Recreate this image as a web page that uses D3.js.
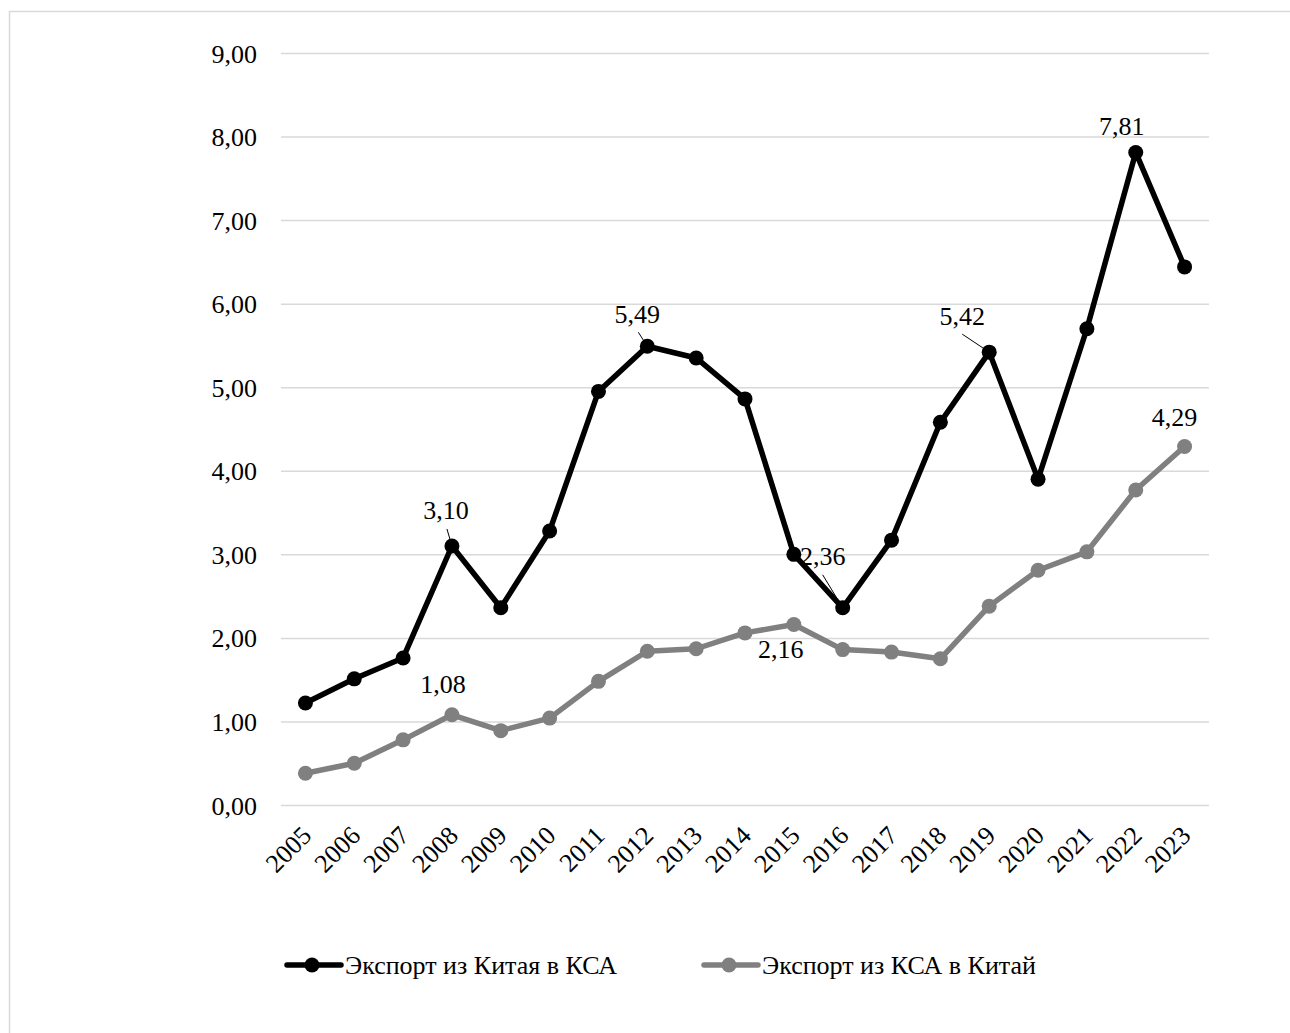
<!DOCTYPE html>
<html>
<head>
<meta charset="utf-8">
<script src="https://cdn.jsdelivr.net/npm/d3@7"></script>
<style>
  body { margin: 0; background: #fff; }
  text { font-family: "Liberation Serif", "Times New Roman", serif; fill: #000; }
</style>
</head>
<body>
<div id="chart"></div>
<script>
// Export between China and KSA, 2005-2023

var years = ["2005","2006","2007","2008","2009","2010","2011","2012","2013","2014",
             "2015","2016","2017","2018","2019","2020","2021","2022","2023"];

var exportChinaToKsa = [1.22, 1.51, 1.76, 3.10, 2.36, 3.28, 4.95, 5.49, 5.35, 4.86,
                        3.00, 2.36, 3.17, 4.58, 5.42, 3.90, 5.70, 7.81, 6.44];

var exportKsaToChina = [0.38, 0.50, 0.78, 1.08, 0.89, 1.04, 1.48, 1.84, 1.87, 2.06,
                        2.16, 1.86, 1.83, 1.75, 2.38, 2.81, 3.03, 3.77, 4.29];

var seriesNames = ["Экспорт из Китая в КСА", "Экспорт из КСА в Китай"];
var yTicks = [0, 1, 2, 3, 4, 5, 6, 7, 8, 9];

// which points carry a value label
var labelledBlack = ["2008", "2012", "2016", "2019", "2022"];
var labelledGray = ["2008", "2015", "2023"];

const W = 1290, H = 1033;
const margin = {top: 53, left: 281, right: 81, bottom: 228};
const width = W - margin.left - margin.right;
const height = H - margin.top - margin.bottom;
const FS = '26px';

const fmt = v => d3.format(".2f")(v).replace(".", ",");

const svgRoot = d3.select('#chart').append('svg')
  .attr("width", W)
  .attr("height", H);

// outer frame
svgRoot.append('rect')
  .attr('x', 9.5).attr('y', 11.5)
  .attr('width', W).attr('height', H)
  .style('fill', 'none')
  .style('stroke', '#d9d9d9')
  .style('stroke-width', 1.5);

const svg = svgRoot.append('g')
  .attr("transform", `translate(${margin.left},${margin.top})`);

const x = d3.scalePoint().domain(years).range([0, width]).padding(0.5);
const y = d3.scaleLinear().domain([0, 9]).range([height, 0]);

// grid lines + y labels
svg.append("g")
  .call(d3.axisLeft(y).tickValues(yTicks).tickSize(-width).tickFormat(fmt).tickPadding(24))
  .call(g => g.select(".domain").remove())
  .call(g => g.selectAll(".tick line").style('stroke', '#d9d9d9').style('stroke-width', 1.5))
  .call(g => g.selectAll(".tick text").style('font-size', FS).style('font-family', '"Liberation Serif", serif').attr('dy', '0.35em'));

// x labels
svg.append("g")
  .attr("transform", `translate(0,${height})`)
  .call(d3.axisBottom(x).tickSize(0))
  .call(g => g.select(".domain").remove())
  .call(g => g.selectAll(".tick text")
    .style('font-size', FS)
    .style('font-family', '"Liberation Serif", serif')
    .attr('text-anchor', 'end')
    .attr('dy', '0')
    .attr('transform', 'translate(5,30) rotate(-45)'));

function drawSeries(values, color)
{
  const pts = years.map((yr, i) => ({yr: yr, v: values[i]}));
  svg.append('path')
    .datum(pts)
    .attr('d', d3.line().x(d => x(d.yr)).y(d => y(d.v)))
    .style('fill', 'none')
    .style('stroke', color)
    .style('stroke-width', 5.5)
    .style('stroke-linejoin', 'round');
  svg.append('g').selectAll('circle')
    .data(pts).enter()
    .append('circle')
    .attr('cx', d => x(d.yr))
    .attr('cy', d => y(d.v))
    .attr('r', 7.5)
    .style('fill', color);
  return pts;
}

const blackPts = drawSeries(exportChinaToKsa, '#000000');
const grayPts = drawSeries(exportKsaToChina, '#808080');

// label offsets relative to point: [dx, dy] and optional leader start [lx, ly]
const blackOffsets = {
  "2008": [-6, -27, -5, -17],
  "2012": [-10, -23, -9, -14],
  "2016": [-20, -43, -20, -33],
  "2019": [-27, -27, -27, -18],
  "2022": [-14, -17]
};
const grayOffsets = {
  "2008": [-9, -22],
  "2015": [-13, 33],
  "2023": [-10, -21]
};

function drawLabels(pts, names, offsets)
{
  pts.filter(d => names.includes(d.yr)).forEach(d => {
    const o = offsets[d.yr];
    const px = x(d.yr), py = y(d.v);
    if(o.length > 2)
    {
      const len = Math.hypot(o[2], o[3]);
      svg.append('line')
        .attr('x1', px + o[2]).attr('y1', py + o[3])
        .attr('x2', px + o[2] / len * 6).attr('y2', py + o[3] / len * 6)
        .style('stroke', '#000')
        .style('stroke-width', 1);
    }
    svg.append('text')
      .attr('x', px + o[0])
      .attr('y', py + o[1])
      .attr('text-anchor', 'middle')
      .style('font-size', FS)
      .text(fmt(d.v));
  });
}

drawLabels(blackPts, labelledBlack, blackOffsets);
drawLabels(grayPts, labelledGray, grayOffsets);

// legend
const legend = svgRoot.append('g').attr('transform', 'translate(0,965)');
[['#000000', 287], ['#808080', 704]].forEach((c, i) => {
  const g = legend.append('g').attr('transform', `translate(${c[1]},0)`);
  g.append('line').attr('x1', 0).attr('x2', 54).attr('y1', 0).attr('y2', 0)
    .style('stroke', c[0]).style('stroke-width', 5.5).style('stroke-linecap', 'round');
  g.append('circle').attr('cx', 25).attr('cy', 0).attr('r', 7.5).style('fill', c[0]);
  g.append('text').attr('x', 58).attr('y', 0).attr('dy', '0.35em')
    .style('font-size', FS).text(seriesNames[i]);
});
</script>
</body>
</html>
